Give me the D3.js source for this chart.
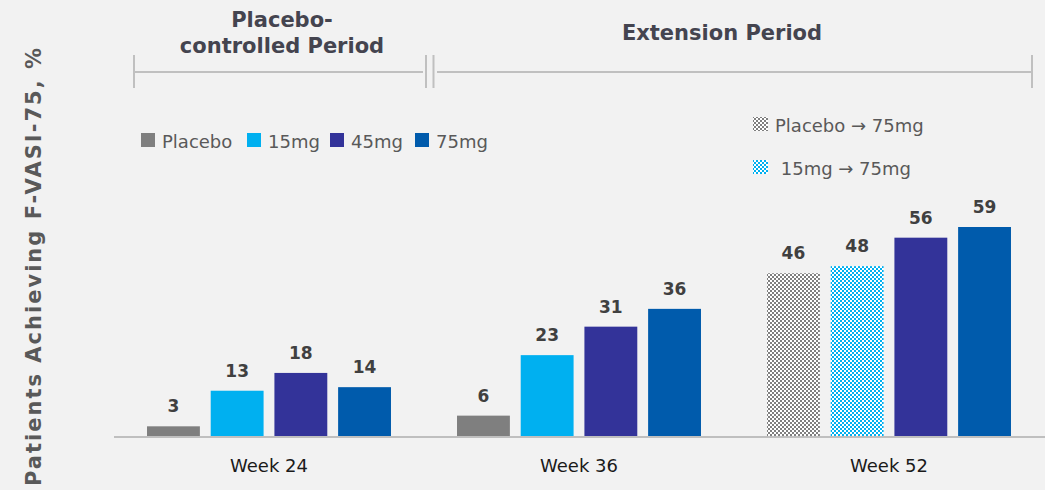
<!DOCTYPE html>
<html>
<head>
<meta charset="utf-8">
<script src="https://cdn.jsdelivr.net/npm/d3@7/dist/d3.min.js"></script>
<style>
  html, body { margin: 0; padding: 0; background: #f2f2f2; }
  svg { display: block; font-family: "DejaVu Sans", Verdana, sans-serif; }
</style>
</head>
<body>
<svg id="chart" width="1045" height="490"></svg>
<script>
// Study visits on the x axis
const weeks = ["Week 24", "Week 36", "Week 52"];
// Treatment arms, in drawing order within each visit
const arms = ["Placebo", "15mg", "45mg", "75mg"];
// % of patients achieving F-VASI-75, one value per arm for each visit
const placebo = [3, 6, 46];
const dose15 = [13, 23, 48];
const dose45 = [18, 31, 56];
const dose75 = [14, 36, 59];
// At Week 52 the placebo and 15mg arms have switched to 75mg
const switchedLabels = ["Placebo \u2192 75mg", "\u00a015mg \u2192 75mg"];

const armValues = [placebo, dose15, dose45, dose75];
const colors = ["#7f7f7f", "#00b0f0", "#333399", "#005bac"];

const svg = d3.select("#chart");

// Checkerboard fills for the switched arms
const defs = svg.append("defs");
function checker(id, color) {
  const p = defs.append("pattern")
    .attr("id", id).attr("patternUnits", "userSpaceOnUse")
    .attr("width", 4).attr("height", 4);
  p.append("rect").attr("width", 4).attr("height", 4).attr("fill", "#ffffff");
  p.append("rect").attr("width", 2).attr("height", 2).attr("fill", color);
  p.append("rect").attr("x", 2).attr("y", 2).attr("width", 2).attr("height", 2).attr("fill", color);
}
checker("chk-gray", "#7f7f7f");
checker("chk-blue", "#00b0f0");

const baseline = 437;
const x0 = d3.scaleBand().domain(weeks).range([114, 1044]).paddingInner(0.213).paddingOuter(0.1065);
const x1 = d3.scaleBand().domain(arms).range([0, x0.bandwidth()]).paddingInner(0.17).paddingOuter(0);
const y = d3.scaleLinear().domain([0, 59]).range([baseline, 227]);

const rows = [];
weeks.forEach((w, i) => {
  arms.forEach((a, j) => {
    let fill = colors[j];
    if (w === "Week 52" && j === 0) fill = "url(#chk-gray)";
    if (w === "Week 52" && j === 1) fill = "url(#chk-blue)";
    rows.push({ week: w, arm: a, value: armValues[j][i], fill });
  });
});

const g = svg.append("g");
g.selectAll("rect.bar").data(rows).join("rect")
  .attr("class", "bar")
  .attr("x", d => x0(d.week) + x1(d.arm))
  .attr("y", d => y(d.value))
  .attr("width", x1.bandwidth())
  .attr("height", d => baseline - y(d.value))
  .attr("fill", d => d.fill);

g.selectAll("text.val").data(rows).join("text")
  .attr("class", "val")
  .attr("x", d => x0(d.week) + x1(d.arm) + x1.bandwidth() / 2)
  .attr("y", d => y(d.value) - 14)
  .attr("text-anchor", "middle")
  .attr("font-size", 17).attr("font-weight", "bold")
  .attr("fill", "#404040")
  .text(d => d.value);

// Category axis
const xAxis = svg.append("g")
  .attr("transform", `translate(0,${baseline})`)
  .call(d3.axisBottom(x0).tickSize(0).tickPadding(22));
xAxis.select(".domain").attr("d", "M114,0H1045").attr("stroke", "#bfbfbf").attr("stroke-width", 2);
xAxis.selectAll(".tick text")
  .attr("font-size", 18).attr("fill", "#1a1a1a")
  .attr("font-family", "DejaVu Sans, sans-serif");

// Y axis title
svg.append("text")
  .attr("transform", "translate(41,267) rotate(-90)")
  .attr("text-anchor", "middle")
  .attr("font-size", 21).attr("font-weight", "bold")
  .attr("fill", "#595959")
  .attr("textLength", 438).attr("lengthAdjust", "spacing")
  .text("Patients Achieving F-VASI-75, %");

// Period brackets
const br = svg.append("g").attr("stroke", "#c0c0c0").attr("stroke-width", 2);
br.append("line").attr("x1", 134).attr("x2", 423).attr("y1", 72).attr("y2", 72);
br.append("line").attr("x1", 437).attr("x2", 1032).attr("y1", 72).attr("y2", 72);
[134, 426, 433.5, 1032].forEach(xv => {
  br.append("line").attr("x1", xv).attr("x2", xv).attr("y1", 55).attr("y2", 88);
});

const hdr = svg.append("g")
  .attr("font-size", 21).attr("font-weight", "bold")
  .attr("fill", "#44444f").attr("text-anchor", "middle");
hdr.append("text").attr("x", 282).attr("y", 27).text("Placebo-");
hdr.append("text").attr("x", 282).attr("y", 53).text("controlled Period");
hdr.append("text").attr("x", 722).attr("y", 40).text("Extension Period");

// Arm legend
const legX = [141, 247, 330, 415];
const leg = svg.append("g");
arms.forEach((a, j) => {
  leg.append("rect").attr("x", legX[j]).attr("y", 133).attr("width", 14).attr("height", 14).attr("fill", colors[j]);
  leg.append("text").attr("x", legX[j] + 21).attr("y", 148)
    .attr("font-size", 18).attr("fill", "#595959").text(a);
});

// Switched-arm legend
const sw = svg.append("g");
["url(#chk-gray)", "url(#chk-blue)"].forEach((f, k) => {
  const yy = 117 + k * 43;
  sw.append("rect").attr("x", 753).attr("y", yy).attr("width", 15).attr("height", 14).attr("fill", f);
  sw.append("text").attr("x", 775).attr("y", yy + 15)
    .attr("font-size", 18).attr("fill", "#595959").text(switchedLabels[k]);
});
</script>
</body>
</html>
